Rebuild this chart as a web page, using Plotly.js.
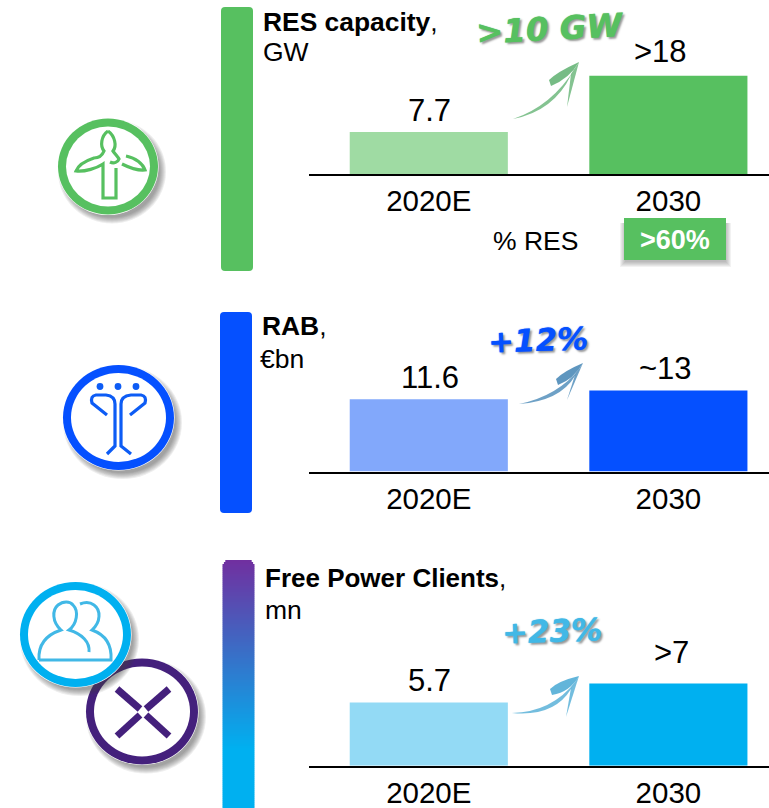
<!DOCTYPE html>
<html><head><meta charset="utf-8">
<script src="https://cdn.plot.ly/plotly-3.0.1.min.js"></script>
<style>html,body{margin:0;padding:0;background:#fff}#c{width:769px;height:808px}</style>
</head><body><div id="c"></div>
<script>
// ---- data ----
const categories = ['2020E', '2030'];
const resValues = [7.7, 18];
const resLabels = ['7.7', '>18'];
const rabValues = [11.6, 13];
const rabLabels = ['11.6', '~13'];
const clientValues = [5.7, 7.4];
const clientLabels = ['5.7', '>7'];

// ---- style ----
const GREEN = '#57C060', GREEN_L = '#9FDBA3';
const BLUE = '#0550FF', BLUE_L = '#82A8FB';
const CYAN = '#00B0F0', CYAN_L = '#93DAF5';
const W = 769, H = 808;
const FONT = '"Liberation Sans", Arial, sans-serif';
const HAND = '"DejaVu Sans", sans-serif';

const panels = [
  {v: resValues, l: resLabels, c: [GREEN_L, GREEN], gap: [21, 24], dx: [1, -8], base: 174, top: 25, ppu: 5.46},
  {v: rabValues, l: rabLabels, c: [BLUE_L, BLUE], gap: [22, 22], dx: [1, -3], base: 471.5, top: 330, ppu: 6.23},
  {v: clientValues, l: clientLabels, c: [CYAN_L, CYAN], gap: [22, 31], dx: [1, 3], base: 765.7, top: 620, ppu: 11.1}
];

const traces = [], valueNotes = [], layout = {
  width: W, height: H, margin: {l: 0, r: 0, t: 0, b: 0, pad: 0},
  paper_bgcolor: '#fff', plot_bgcolor: 'rgba(0,0,0,0)', showlegend: false, bargap: 0.34,
  font: {family: FONT, color: '#000'}
};
panels.forEach((p, i) => {
  const n = i + 1, sx = n === 1 ? '' : n, xa = 'xaxis' + sx, ya = 'yaxis' + sx;
  traces.push({
    type: 'bar', x: categories, y: p.v, xaxis: 'x' + sx, yaxis: 'y' + sx,
    marker: {color: p.c, line: {width: 0}}, hoverinfo: 'skip'
  });
  p.l.forEach((t, k) => valueNotes.push({
    xref: 'x' + sx, yref: 'y' + sx, x: k, y: p.v[k], text: t, showarrow: false,
    xanchor: 'center', yanchor: 'middle', yshift: p.gap[k], xshift: p.dx[k], borderpad: 0,
    font: {family: FONT, size: 31, color: '#000'}
  }));
  layout[xa] = {
    domain: [309 / W, 1], anchor: 'y' + sx, type: 'category', range: [-0.5, 1.42], fixedrange: true,
    showline: true, linecolor: '#000', linewidth: 2, ticks: '', ticklabelstandoff: 0,
    tickfont: {family: FONT, size: 29.5, color: '#000'}, showgrid: false, zeroline: false
  };
  layout[ya] = {
    domain: [1 - p.base / H, 1 - p.top / H], anchor: 'x' + sx, range: [0, (p.base - p.top) / p.ppu],
    visible: false, fixedrange: true, showgrid: false, zeroline: false
  };
});
// Full-page overlay axes in pixel units, used for the decoration
layout.xaxis4 = {domain: [0, 1], range: [0, W], visible: false, anchor: 'y4', fixedrange: true};
layout.yaxis4 = {domain: [0, 1], range: [H, 0], visible: false, anchor: 'x4', fixedrange: true};
traces.push({type: 'scatter', x: [0], y: [0], xaxis: 'x4', yaxis: 'y4', mode: 'markers', marker: {opacity: 0}, hoverinfo: 'skip'});

const shapes = [];
const ref = {xref: 'x4', yref: 'y4', layer: 'above'};
const path = (d, o) => shapes.push(Object.assign({type: 'path', path: d}, ref, o));
const fill = (d, c, op) => path(d, {fillcolor: c, opacity: op === undefined ? 1 : op, line: {width: 0}});
const stroke = (d, c, w) => path(d, {line: {color: c, width: w}, fillcolor: 'rgba(0,0,0,0)'});
const rect = (x0, y0, x1, y1, c, op) => shapes.push(Object.assign({type: 'rect', x0, y0, x1, y1, fillcolor: c, opacity: op === undefined ? 1 : op, line: {width: 0}}, ref));
const ell = (cx, cy, rx, ry, c, op) => shapes.push(Object.assign({type: 'circle', x0: cx - rx, x1: cx + rx, y0: cy - ry, y1: cy + ry, fillcolor: c, opacity: op === undefined ? 1 : op, line: {width: 0}}, ref));

function rrect(x0, y0, x1, y1, r, c) {
  fill(`M${x0 + r},${y0} L${x1 - r},${y0} Q${x1},${y0} ${x1},${y0 + r} L${x1},${y1 - r} Q${x1},${y1} ${x1 - r},${y1} L${x0 + r},${y1} Q${x0},${y1} ${x0},${y1 - r} L${x0},${y0 + r} Q${x0},${y0} ${x0 + r},${y0} Z`, c);
}
function badge(cx, cy, rx, ry, c, ring) {
  for (let k = 6; k >= 0; k--) ell(cx + 4, cy + 5, rx + k - 2, ry + k - 2, '#444', 0.09);
  ell(cx, cy, rx + 0.6, ry + 0.6, '#fff');
  ell(cx, cy, rx, ry, c);
  ell(cx, cy, rx - ring, ry - ring, '#fff');
}
function arrow(t, p, b1, b2, ctrl, col) {
  fill(`M${t[0]},${t[1]} Q${ctrl[0]},${ctrl[1]} ${p[0] - 3},${p[1] + 5} L${p[0] - 8},${p[1] + 13} Q${ctrl[0] + 2},${ctrl[1] + 5} ${t[0]},${t[1]} Z`, col, 0.85);
  fill(`M${b1[0]},${b1[1]} Q${b1[0] + 8},${b1[1] - 8} ${p[0]},${p[1]} Q${p[0] - 9},${p[1] + 16} ${b1[0] + 2},${b1[1] + 6} Z`, col, 0.95);
  fill(`M${b2[0]},${b2[1]} L${p[0]},${p[1]} L${p[0] - 8},${p[1] + 12} Z`, col, 0.85);
}

// side bars
rrect(221, 7, 253, 271, 4, GREEN);
rrect(220, 312, 252, 513, 4, BLUE);
// gradient bar: purple on top fading into cyan
const gradTop = [112, 48, 160], gradBottom = [0, 176, 240];
for (let y = 560; y < 808; y += 2) {
  const t = Math.min(1, (y - 560) / 188);
  const col = `rgb(${gradTop.map((a, j) => Math.round(a + (gradBottom[j] - a) * t)).join(',')})`;
  const inset = y < 564 ? (564 - y) * 0.7 : 0;
  rect(222.5 + inset, y, 254.5 - inset, y + 2.2, col);
}

// wind turbine
badge(108, 166.5, 50, 48, GREEN, 8);
stroke('M108,131 C101,136 100,146 104,151 C102,156 98,158 94,158 C85,161 78,166 76,171 C85,172 97,168 103,164 L103,198 L116,198 L116,168 M108,131 C115,136 117,146 113,151 C115,154 118,157 119,159 C118,162 114,164 110,162',
  GREEN, 3.2);
stroke('M126,156 C136,158 143,164 145,170 C136,171 128,167 122,164', GREEN, 3.2);

// grid pylon
badge(118.5, 417.5, 55.5, 52.5, BLUE, 8);
[100, 118, 136].forEach(x => ell(x, 386.5, 3.4, 3.4, '#0D5CF5'));
stroke('M107,415 L92,403 Q90,396 96,395 L106,395 Q115,396 115,404 L115,446 L107,454', '#0D5CF5', 3.2);
stroke('M130,415 L145,403 Q147,396 141,395 L131,395 Q121,396 121,404 L121,446 L131,454', '#0D5CF5', 3.2);

// X circle
badge(142, 711.5, 56, 53, '#44207C', 8);
[[117, 689, 140, 709], [169, 689, 146, 709], [117, 736, 140, 715], [169, 736, 146, 715]].forEach(a =>
  stroke(`M${a[0]},${a[1]} L${a[2]},${a[3]}`, '#44207C', 7));

// people circle
badge(75.5, 634.5, 55.5, 52.5, CYAN, 8);
stroke('M39,660 L111,660 C112,645 106,635 92,630 C101,622 101,610 94,605 C90,602 85,602 80,604 M39,660 C38,645 46,635 61,630 C52,622 52,610 58,605 C63,601 70,601 73,605 C79,611 77,624 69,630 C82,634 90,642 89,652',
  '#41B8E6', 3);

// arrows
arrow([513, 119], [579, 62], [549, 80], [567, 107], [552, 106], '#6FB87E');
arrow([519, 404], [583, 363], [556, 379], [567, 400], [558, 396], '#5590BC');
arrow([512, 713], [579, 676], [550, 689], [566, 717], [552, 712], '#5AB1D8');

// >60% box
for (let k = 6; k >= 1; k--) rect(624 + 2 - k, 218 + 5, 726 + k - 1, 260 + 1 + k, '#444', 0.07);
rect(624, 218, 726, 260, GREEN);
layout.shapes = shapes;

const note = (x, y, text, size, extra) => Object.assign({
  xref: 'x4', yref: 'y4', x, y, text, showarrow: false, xanchor: 'left', yanchor: 'middle',
  font: {family: FONT, size, color: '#000'}, borderpad: 0
}, extra || {});
const hand = (x, y, text, size, color, angle) => note(x, y, '<b><i>' + text + '</i></b>', size, {
  xanchor: 'center', textangle: angle,
  font: {family: HAND, size, color, shadow: `0 0 1px ${color}, 2px 2px 2px #999`}
});
layout.annotations = valueNotes.concat([
  note(262, 22, '<b>RES capacity</b>,', 26.4),
  note(262, 52, 'GW', 26.5),
  note(261, 326, '<b>RAB</b>,', 26.4),
  note(259, 359, '€bn', 26.5),
  note(264, 578, '<b>Free Power Clients</b>,', 26),
  note(264, 610, 'mn', 26.5),
  note(492, 241, '% RES', 26.5),
  note(675, 240, '<b>>60%</b>', 27, {xanchor: 'center', font: {family: FONT, size: 27, color: '#fff'}}),
  hand(550, 29, '>10 GW', 32.5, GREEN, -3),
  hand(538, 340, '+12%', 31, BLUE, -2),
  hand(552, 631, '+23%', 31, '#41B8E6', -2)
]);

Plotly.newPlot('c', traces, layout, {displayModeBar: false, staticPlot: true});
</script></body></html>
